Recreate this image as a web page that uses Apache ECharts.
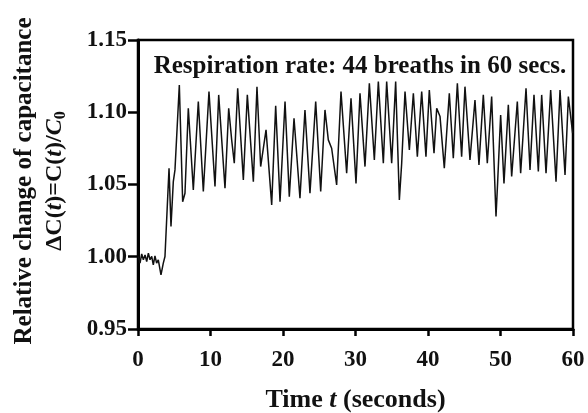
<!DOCTYPE html>
<html>
<head>
<meta charset="utf-8">
<script src="https://cdn.jsdelivr.net/npm/echarts@6/dist/echarts.min.js"></script>
<style>
  html, body { margin: 0; padding: 0; background: #fff; }
  #chart { width: 588px; height: 413px; }
</style>
</head>
<body>
<div id="chart"></div>
<script>
// time (s)
const timeSec = [
  0.05, 0.28, 0.51, 0.74, 0.97, 1.20, 1.43, 1.66, 1.89, 2.11, 2.34, 2.57, 2.80, 3.17, 3.49, 3.72,
  4.28, 4.55, 4.87, 5.10, 5.70, 6.16, 6.48, 6.94, 7.63, 8.32, 9.01, 9.79, 10.62, 11.13, 12.00,
  12.51, 12.92, 13.28, 13.75, 14.53, 15.08, 15.91, 16.41, 16.92, 17.66, 18.44, 18.99, 19.59,
  20.28, 20.87, 21.52, 22.34, 23.03, 23.72, 24.51, 25.20, 25.79, 26.25, 26.71, 27.40, 28.00,
  28.78, 29.38, 30.07, 30.62, 31.31, 31.91, 32.60, 33.15, 33.84, 34.30, 34.99, 35.54, 36.05,
  36.37, 36.83, 37.43, 37.98, 38.53, 39.13, 39.72, 40.18, 40.83, 41.20, 41.66, 42.25, 42.94,
  43.49, 44.05, 44.64, 45.10, 45.79, 46.48, 47.03, 47.63, 48.18, 48.78, 49.38, 49.61, 50.02,
  50.48, 51.08, 51.54, 52.32, 52.78, 53.52, 54.07, 54.62, 55.22, 55.68, 56.28, 56.92, 57.66,
  58.21, 58.90, 59.36, 59.95
];
// relative capacitance C(t)/C0
const capRatio = [
  1.0002, 0.9956, 1.0020, 0.9979, 1.0013, 0.9967, 1.0025, 0.9979, 1.0002, 0.9944, 1.0006, 0.9956, 0.9979, 0.9875, 0.9956, 1.0002,
  1.0613, 1.0209, 1.0520, 1.0601, 1.1189, 1.0381, 1.0439, 1.1028, 1.0462, 1.1074, 1.0451, 1.1143, 1.0486, 1.1120, 1.0474,
  1.1028, 1.0809, 1.0647, 1.1166, 1.0532, 1.1120, 1.0520, 1.1177, 1.0624, 1.0878, 1.0359, 1.1044, 1.0381,
  1.1074, 1.0416, 1.0958, 1.0405, 1.1016, 1.0439, 1.1074, 1.0451, 1.1016, 1.0809, 1.0751, 1.0497, 1.1143,
  1.0578, 1.1097, 1.0508, 1.1131, 1.0624, 1.1200, 1.0670, 1.1212, 1.0647, 1.1212, 1.0647, 1.1212, 1.0393,
  1.0647, 1.1143, 1.0739, 1.1131, 1.0693, 1.1143, 1.0693, 1.1154, 1.0716, 1.1028, 1.0970, 1.0613, 1.1131,
  1.0682, 1.1200, 1.0693, 1.1177, 1.0670, 1.1085, 1.0636, 1.1120, 1.0647, 1.1108, 1.0278, 1.0520, 1.0981,
  1.0508, 1.1051, 1.0555, 1.1074, 1.0578, 1.1166, 1.0601, 1.1120, 1.0590, 1.1120, 1.0578, 1.1154, 1.0520,
  1.1154, 1.0566, 1.1108, 1.0855
];

const titleText = 'Respiration rate: 44 breaths in 60 secs.';
const serif = '"Liberation Serif", "DejaVu Serif", serif';

const chart = echarts.init(document.getElementById('chart'));

const option = {
  animation: false,
  backgroundColor: '#fff',
  grid: {
    left: 138, right: 15, top: 40, bottom: 84,
    outerBoundsMode: 'none',
    show: true, borderColor: '#000', borderWidth: 2.5
  },
  title: {
    text: titleText,
    left: 355, top: 49,
    textAlign: 'center',
    textStyle: { fontFamily: serif, fontWeight: 'bold', fontSize: 25, color: '#111' }
  },
  graphic: [{
    type: 'text',
    x: 40, y: 181,
    rotation: Math.PI / 2,
    style: {
      text: '{a|Relative change of capacitance}\n{b|ΔC(}{i|t}{b|)=C(}{i|t}{b|)/}{i|C}{s|0}',
      align: 'center',
      verticalAlign: 'middle',
      rich: {
        a: { fontFamily: serif, fontWeight: 'bold', fontSize: 25, fill: '#111', lineHeight: 30 },
        b: { fontFamily: serif, fontWeight: 'bold', fontSize: 24, fill: '#111', lineHeight: 30 },
        i: { fontFamily: serif, fontWeight: 'bold', fontStyle: 'italic', fontSize: 24, fill: '#111', lineHeight: 30 },
        s: { fontFamily: serif, fontWeight: 'bold', fontSize: 16, fill: '#111', lineHeight: 30, padding: [12, 0, 0, 0] }
      }
    }
  }],
  xAxis: {
    type: 'value',
    min: 0, max: 60, interval: 10,
    name: '{b|Time }{i|t}{b| (seconds)}',
    nameLocation: 'middle',
    nameGap: 58,
    nameTextStyle: {
      rich: {
        b: { fontFamily: serif, fontWeight: 'bold', fontSize: 26, color: '#111' },
        i: { fontFamily: serif, fontWeight: 'bold', fontStyle: 'italic', fontSize: 26, color: '#111' }
      }
    },
    axisLine: { show: true, lineStyle: { color: '#000', width: 3 } },
    axisTick: { show: true, length: 7, lineStyle: { color: '#000', width: 2.5 } },
    axisLabel: { fontFamily: serif, fontWeight: 'bold', fontSize: 23, color: '#111', margin: 20 },
    splitLine: { show: false }
  },
  yAxis: {
    type: 'value',
    min: 0.95, max: 1.15, interval: 0.05,
    axisLine: { show: true, lineStyle: { color: '#000', width: 3 } },
    axisTick: { show: true, length: 10, lineStyle: { color: '#000', width: 2.5 } },
    axisLabel: {
      fontFamily: serif, fontWeight: 'bold', fontSize: 23, color: '#111', margin: 11,
      formatter: v => v.toFixed(2)
    },
    splitLine: { show: false }
  },
  series: [{
    type: 'line',
    data: timeSec.map((t, i) => [t, capRatio[i]]),
    showSymbol: false,
    lineStyle: { color: '#111', width: 1.5 },
    z: 3
  }]
};

chart.setOption(option);
</script>
</body>
</html>
